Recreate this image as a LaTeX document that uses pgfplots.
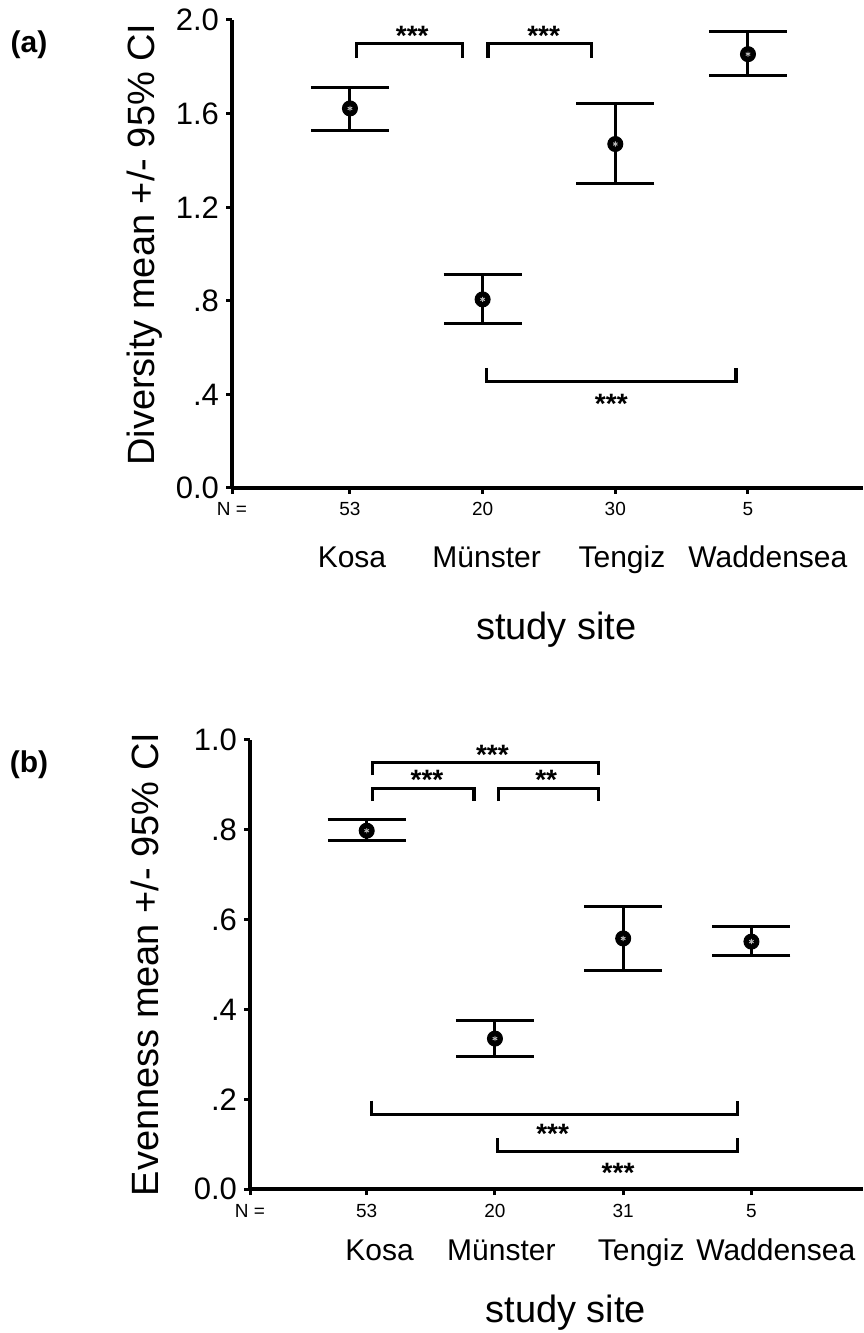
\documentclass[border=0pt]{standalone}
\usepackage{fontspec}
\setmainfont{Liberation Sans}
\usepackage{pgfplots}
\pgfplotsset{compat=1.18}

% 1 px of the reference = 0.5pt
\newcommand{\fs}[1]{\fontsize{#1}{1.2\dimexpr #1pt\relax}\selectfont}
\newcommand{\stars}[1]{{\fs{14}\bfseries #1}}

\pgfplotsset{site/.style={
  scale only axis, anchor=south west, clip=false,
  axis x line*=bottom, axis y line*=left,
  axis line style={line width=2pt, -},
  every tick/.style={black, line width=1.5pt},
  tick align=outside, major tick length=3pt,
  yticklabel style={font=\fs{15.5}},
  xticklabel style={font=\fs{9.5}, anchor=base, yshift=-11pt},
  extra x tick style={major tick length=0pt,
    xticklabel style={font=\fs{15}, yshift=-29pt}},
  label style={font=\fs{19}},
  xlabel={study site},
}}
\pgfplotsset{ci/.style={black, only marks, mark=*, mark size=3.75pt,
  mark options={fill=black, line width=0.5pt},
  error bars/.cd, y dir=both, y explicit,
  error bar style={line width=1.5pt},
  error mark options={rotate=90, mark size=19.5pt, line width=1.5pt}}}
\pgfplotsset{speck/.style={only marks, mark=asterisk, mark size=1.3pt,
  gray!55, line width=0.45pt}}
\pgfplotsset{brk/.style={black, line width=1.6pt, mark=none}}

\begin{document}
\begin{tikzpicture}
\useasboundingbox (0,0) rectangle (431.5pt,666.5pt);

% (a) diversity
\begin{axis}[site, at={(116pt,422.5pt)}, width=315.5pt, height=234pt,
  xmin=0.111, xmax=4.867, ymin=0, ymax=2,
  ytick={0,0.4,0.8,1.2,1.6,2.0}, yticklabels={0.0,.4,.8,1.2,1.6,2.0},
  xtick={0.111,1,2,3,4}, xticklabels={N =,53,20,30,5},
  extra x ticks={1.015,2.03,3.05,4.15},
  extra x tick labels={Kosa,Münster,Tengiz,Waddensea},
  ylabel={Diversity mean +/- 95\% CI},
  ylabel style={at={(axis description cs:-0.138,0.52)}, anchor=center},
  xlabel style={at={(axis description cs:0.514,0)}, anchor=center, yshift=-71pt}]
  \addplot[ci] coordinates {
    (1,1.622) += (0,0.091) -= (0,0.096)
    (2,0.806) += (0,0.107) -= (0,0.104)
    (3,1.470) += (0,0.175) -= (0,0.170)
    (4,1.854) += (0,0.096) -= (0,0.090)};
  \addplot[speck] coordinates {(1,1.622)(2,0.806)(3,1.470)(4,1.854)};
  \addplot[brk] coordinates {(1.05,1.838)(1.05,1.90)(1.85,1.90)(1.85,1.838)};
  \addplot[brk] coordinates {(2.04,1.838)(2.04,1.90)(2.82,1.90)(2.82,1.838)};
  \addplot[brk] coordinates {(2.03,0.513)(2.03,0.454)(3.91,0.454)(3.91,0.513)};
  \node[anchor=base, yshift=-8pt] at (axis cs:1.47,1.96) {\stars{***}};
  \node[anchor=base, yshift=-8pt] at (axis cs:2.46,1.96) {\stars{***}};
  \node[anchor=base, yshift=-8pt] at (axis cs:2.97,0.385) {\stars{***}};
\end{axis}
\node[font=\fs{15}\bfseries] at (14.5pt,644pt) {(a)};

% (b) evenness
\begin{axis}[site, at={(125pt,72pt)}, width=306.5pt, height=224.5pt,
  xmin=0.09, xmax=4.87, ymin=0, ymax=1,
  ytick={0,0.2,0.4,0.6,0.8,1.0}, yticklabels={0.0,.2,.4,.6,.8,1.0},
  xtick={0.09,1,2,3,4}, xticklabels={N =,53,20,31,5},
  extra x ticks={1.1,2.05,3.14,4.19},
  extra x tick labels={Kosa,Münster,Tengiz,Waddensea},
  extra x tick style={major tick length=0pt,
    xticklabel style={font=\fs{15}, yshift=4.5pt}},
  ylabel={Evenness mean +/- 95\% CI},
  ylabel style={at={(axis description cs:-0.171,0.5)}, anchor=center},
  xlabel style={at={(axis description cs:0.515,0)}, anchor=center, yshift=-62pt}]
  \addplot[ci] coordinates {
    (1,0.798) += (0,0.026) -= (0,0.022)
    (2,0.335) += (0,0.040) -= (0,0.040)
    (3,0.558) += (0,0.072) -= (0,0.071)
    (4,0.551) += (0,0.034) -= (0,0.031)};
  \addplot[speck] coordinates {(1,0.798)(2,0.335)(3,0.558)(4,0.551)};
  \addplot[brk] coordinates {(1.047,0.922)(1.047,0.950)(2.81,0.950)(2.81,0.922)};
  \addplot[brk] coordinates {(1.044,0.864)(1.044,0.892)(1.836,0.892)(1.836,0.864)};
  \addplot[brk] coordinates {(2.03,0.864)(2.03,0.892)(2.81,0.892)(2.81,0.864)};
  \addplot[brk] coordinates {(1.037,0.197)(1.037,0.166)(3.89,0.166)(3.89,0.197)};
  \addplot[brk] coordinates {(2.02,0.113)(2.02,0.084)(3.89,0.084)(3.89,0.113)};
  \node[anchor=base, yshift=-8pt] at (axis cs:1.98,0.982) {\stars{***}};
  \node[anchor=base, yshift=-8pt] at (axis cs:1.47,0.925) {\stars{***}};
  \node[anchor=base, yshift=-8pt] at (axis cs:2.40,0.925) {\stars{**}};
  \node[anchor=base, yshift=-8pt] at (axis cs:2.45,0.136) {\stars{***}};
  \node[anchor=base, yshift=-8pt] at (axis cs:2.96,0.051) {\stars{***}};
\end{axis}
\node[font=\fs{15}\bfseries] at (14.5pt,284pt) {(b)};
\end{tikzpicture}
\end{document}
